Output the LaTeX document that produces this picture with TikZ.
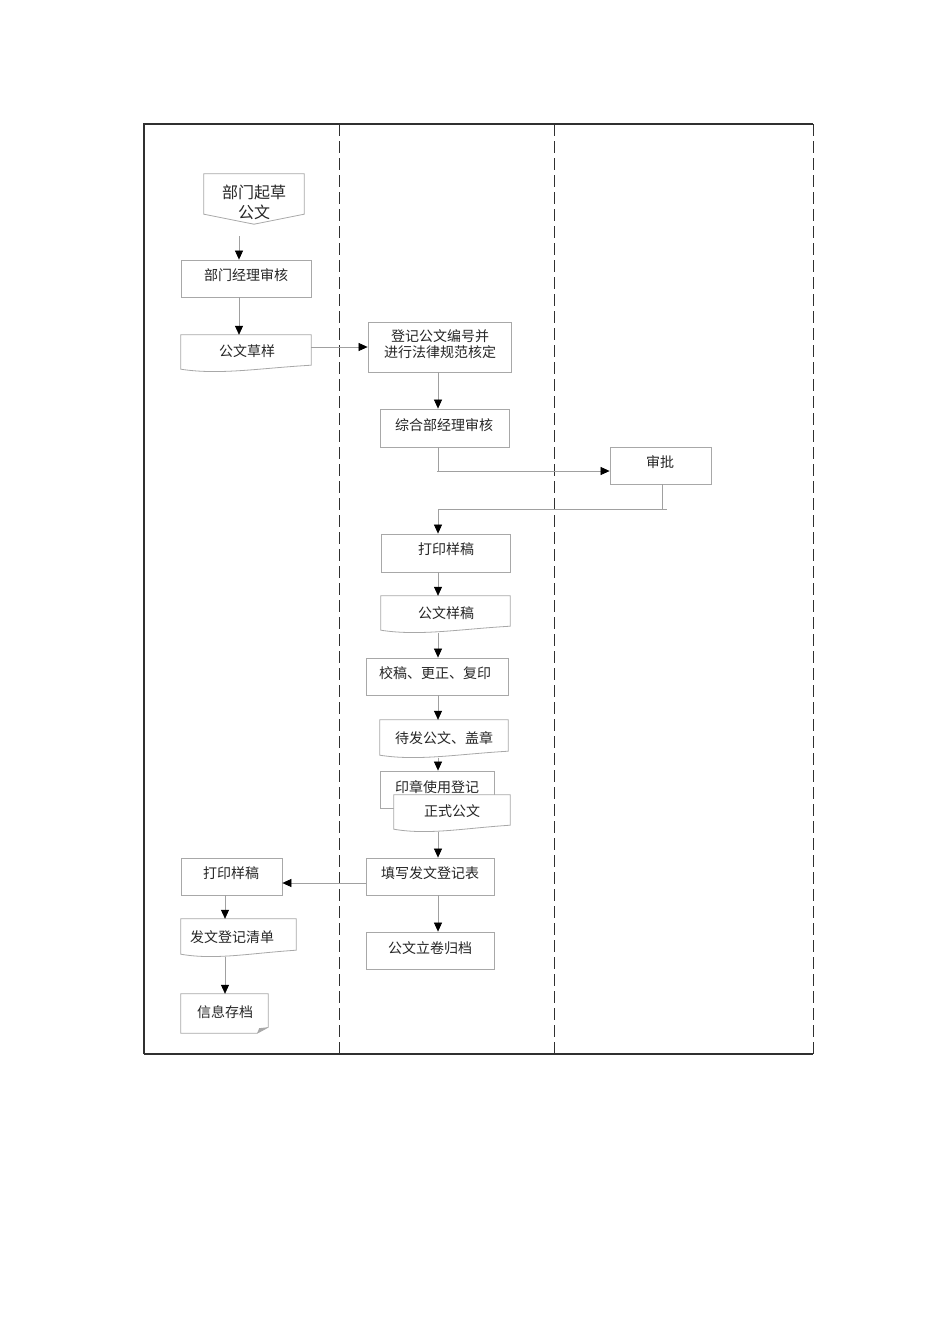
\documentclass[tikz,border=0pt]{standalone}
\usepackage{fontspec}
\newfontfamily\cjk{Noto Sans CJK SC}
\usetikzlibrary{arrows.meta,calc}
\definecolor{boxgray}{HTML}{A8A8A8}
\definecolor{linegray}{HTML}{A0A0A0}
\definecolor{framegray}{HTML}{303030}
\tikzset{
  box/.style={draw=boxgray,fill=white,line width=0.8pt,inner sep=0pt},
  hidden/.style={draw=none,inner sep=0pt},
  outline/.style={draw=boxgray,fill=white,line width=0.8pt},
  txt/.style={font=\cjk\fontsize{14}{16}\selectfont,text=black!85,inner sep=0pt,align=center},
  bigtxt/.style={font=\cjk\fontsize{16}{20}\selectfont,text=black!85,inner sep=0pt,align=center},
  arr/.style={draw=linegray,line width=0.7pt,-{Triangle[color=black,length=9pt,width=8pt]}},
  plain/.style={draw=linegray,line width=0.7pt},
  frame/.style={draw=framegray,line width=1.1pt},
  lane/.style={draw=framegray,line width=0.85pt,dash pattern=on 12pt off 5pt}
}
\newcommand\docshape[1]{%
  \path[outline] (#1.north west) -- (#1.north east) -- ([yshift=7pt]#1.south east)
    .. controls ($(#1.south west)!0.6!(#1.south east)+(0pt,4pt)$) and ($(#1.south west)!0.3!(#1.south east)+(0pt,-3pt)$) ..
    ([yshift=3pt]#1.south west) -- cycle;}
\begin{document}
\begin{tikzpicture}[x=1pt,y=-1pt]
\useasboundingbox (0,0) rectangle (950,1344);
\fill[white] (0,0) rectangle (950,1344);
% frame and lanes
\coordinate (ftl) at (144,124);
\coordinate (fbr) at (813,1054);
\draw[frame] (fbr -| ftl) -- (ftl) -- (ftl -| fbr);
\draw[frame] (fbr -| ftl) -- (fbr);
\draw[lane] (339,124) -- (339,1054);
\draw[lane] (554,124) -- (554,1054);
\draw[lane] (ftl -| fbr) -- (fbr);

% nodes
\node[hidden,minimum width=100pt,minimum height=50pt] (a) at (254,199) {};
\path[outline] (a.north west) -- (a.north east) -- ([yshift=10pt]a.south east) -- (a.south) -- ([yshift=10pt]a.south west) -- cycle;
\node[bigtxt] (at) at (254,202) {部门起草\\公文};

\node[box,minimum width=130pt,minimum height=37pt] (b1) at (246,278.5) {};
\node[txt] (b1t) at (246,275) {部门经理审核};

\node[hidden,minimum width=130pt,minimum height=37pt] (b2) at (246,353.5) {};
\docshape{b2}
\node[txt] (b2t) at (247,351) {公文草样};

\node[box,minimum width=143pt,minimum height=50pt] (c1) at (439.5,347) {};
\node[txt] (c1t) at (440,344) {登记公文编号并\\进行法律规范核定};

\node[box,minimum width=129pt,minimum height=38pt] (c2) at (444.5,428) {};
\node[txt] (c2t) at (444,425) {综合部经理审核};

\node[box,minimum width=101pt,minimum height=37pt] (d1) at (660.5,465.5) {};
\node[txt] (d1t) at (660,462) {审批};

\node[box,minimum width=129pt,minimum height=38pt] (e1) at (445.5,553) {};
\node[txt] (e1t) at (446,549) {打印样稿};

\node[hidden,minimum width=129pt,minimum height=37pt] (e2) at (445.5,614.5) {};
\docshape{e2}
\node[txt] (e2t) at (446,613) {公文样稿};

\node[box,minimum width=142pt,minimum height=37pt] (e3) at (437,676.5) {};
\node[txt] (e3t) at (435,673) {校稿、更正、复印};

\node[hidden,minimum width=128pt,minimum height=38pt] (e4) at (444,739) {};
\docshape{e4}
\node[txt] (e4t) at (444,738) {待发公文、盖章};

\node[box,minimum width=114pt,minimum height=37pt] (e5) at (437,789.5) {};
\node[txt] (e5t) at (437,787) {印章使用登记};

\node[hidden,minimum width=116pt,minimum height=37pt] (e6) at (452,813.5) {};
\docshape{e6}
\node[txt] (e6t) at (452,811) {正式公文};

\node[box,minimum width=128pt,minimum height=37pt] (f1) at (430,876.5) {};
\node[txt] (f1t) at (430,873) {填写发文登记表};

\node[box,minimum width=128pt,minimum height=37pt] (f2) at (430,950.5) {};
\node[txt] (f2t) at (430,948) {公文立卷归档};

\node[box,minimum width=101pt,minimum height=37pt] (g1) at (231.5,876.5) {};
\node[txt] (g1t) at (231,873) {打印样稿};

\node[hidden,minimum width=115pt,minimum height=38pt] (g2) at (238.5,938) {};
\docshape{g2}
\node[txt] (g2t) at (232,937) {发文登记清单};

\node[hidden,minimum width=87pt,minimum height=39pt] (g3) at (224.5,1013.5) {};
\path[outline] (g3.north west) -- (g3.north east) -- ([yshift=6pt]g3.south east) -- ([xshift=-11pt]g3.south east) -- (g3.south west) -- cycle;
\fill[boxgray] ([xshift=-11pt]g3.south east) -- ([xshift=-9pt,yshift=5pt]g3.south east) -- ([yshift=6pt]g3.south east) -- cycle;
\node[txt] (g3t) at (225,1012) {信息存档};

% helper coordinates
\coordinate (s1) at (239,236);
\coordinate (mx) at (438,0);
\coordinate (k1) at (438,471);
\coordinate (k2) at (662,509);
\coordinate (h1) at (0,883);
\coordinate (lx) at (225,0);

% connectors
\draw[arr] (s1) -- (s1 |- b1.north);
\draw[arr] (b1.south -| s1) -- (b2.north -| s1);
\draw[arr] (b2.east |- c1.west) -- (c1.west);
\draw[arr] (c1.south -| mx) -- (c2.north -| mx);
\draw[arr] (c2.south -| mx) -- (k1) -- (k1 -| d1.west);
\draw[plain] (k1) -- ++(-1,0);
\draw[arr] (d1.south -| k2) -- (k2) -- (k2 -| mx) -- (e1.north -| mx);
\draw[plain] (k2) -- ++(5,0);
\draw[arr] (e1.south -| mx) -- (e2.north -| mx);
\draw[arr] (e2.south -| mx) -- (e3.north -| mx);
\draw[arr] (e3.south -| mx) -- (e4.north -| mx);
\draw[arr] (e4.south -| mx) -- (e5.north -| mx);
\draw[arr] (e6.south -| mx) -- (f1.north -| mx);
\draw[arr] (f1.south -| mx) -- (f2.north -| mx);
\draw[arr] (f1.west |- h1) -- (g1.east |- h1);
\draw[arr] (g1.south -| lx) -- (g2.north -| lx);
\draw[arr] (g2.south -| lx) -- (g3.north -| lx);
\end{tikzpicture}
\end{document}
